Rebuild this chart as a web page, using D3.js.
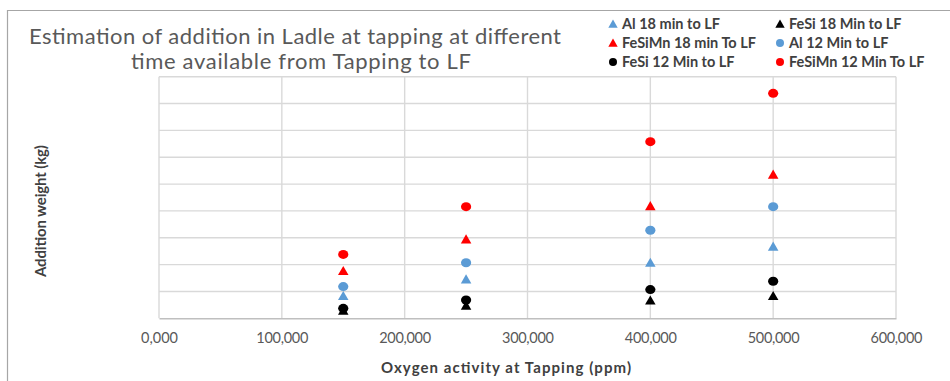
<!DOCTYPE html>
<html>
<head>
<meta charset="utf-8">
<script src="https://cdn.jsdelivr.net/npm/d3@7"></script>
<style>
  body { margin: 0; background: #fff; }
  svg { display: block; }
  .tick text { font-family: Lato, "Open Sans", sans-serif; font-size: 14.5px; fill: #595959; }
</style>
</head>
<body>
<div id="chart"></div>
<script>
// x values (ppm) and addition weights (units of one gridline)
const oxygen = [150000, 250000, 400000, 500000];
const al18 = [0.83, 1.45, 2.07, 2.67];
const fesi18 = [0.28, 0.47, 0.66, 0.83];
const fesimn18 = [1.76, 2.94, 4.18, 5.35];
const al12 = [1.18, 2.07, 3.28, 4.16];
const fesi12 = [0.37, 0.68, 1.07, 1.38];
const fesimn12 = [2.38, 4.16, 6.58, 8.38];
const xTicks = [0, 100000, 200000, 300000, 400000, 500000, 600000];
const xTickLabels = ["0,000", "100,000", "200,000", "300,000", "400,000", "500,000", "600,000"];

const series = [
  { name: "Al 18 min to LF", values: al18, color: "#5b9bd5", shape: "tri" },
  { name: "FeSi 18 Min to LF", values: fesi18, color: "#000000", shape: "tri" },
  { name: "FeSiMn 18 min To LF", values: fesimn18, color: "#ff0000", shape: "tri" },
  { name: "Al 12 Min to LF", values: al12, color: "#5b9bd5", shape: "circle" },
  { name: "FeSi 12 Min to LF", values: fesi12, color: "#000000", shape: "circle" },
  { name: "FeSiMn 12 Min To LF", values: fesimn12, color: "#ff0000", shape: "circle" }
];

const width = 950, height = 381;
const plotLeft = 159, plotRight = 896, plotTop = 76.7, plotBottom = 318.3;

const svg = d3.select("#chart").append("svg")
  .attr("width", width)
  .attr("height", height);

// outer chart frame (cropped on the right and bottom)
svg.append("path")
  .attr("d", `M7.5,${height} V10.5 H${width}`)
  .attr("fill", "none")
  .attr("stroke", "#a6a6a6")
  .attr("stroke-width", 1.2);

const x = d3.scaleLinear().domain([0, 600000]).range([plotLeft, plotRight]);
const y = d3.scaleLinear().domain([0, 9]).range([plotBottom, plotTop]);

// gridlines
svg.append("g")
  .selectAll("line")
  .data(d3.range(1, 10))
  .enter()
  .append("line")
  .attr("x1", plotLeft).attr("x2", plotRight)
  .attr("y1", d => y(d)).attr("y2", d => y(d))
  .attr("stroke", "#d9d9d9")
  .attr("stroke-width", 1.4);

svg.append("g")
  .selectAll("line")
  .data(xTicks)
  .enter()
  .append("line")
  .attr("x1", d => x(d)).attr("x2", d => x(d))
  .attr("y1", plotTop).attr("y2", plotBottom)
  .attr("stroke", "#d9d9d9")
  .attr("stroke-width", 1.4);

// x axis
const xAxis = svg.append("g")
  .attr("transform", `translate(0,${plotBottom})`)
  .call(d3.axisBottom(x)
    .tickValues(xTicks)
    .tickSize(0)
    .tickPadding(14)
    .tickFormat((d, i) => xTickLabels[i]));
xAxis.select(".domain").attr("stroke", "#bfbfbf").attr("stroke-width", 1.4);
xAxis.selectAll(".tick text").attr("textLength", (d, i) => i === 0 ? 37 : 52);

// axis titles
svg.append("text")
  .attr("x", 506)
  .attr("y", 373)
  .attr("text-anchor", "middle")
  .attr("textLength", 250)
  .style("font-family", "Lato, sans-serif")
  .style("font-weight", "bold")
  .style("font-size", "15px")
  .style("fill", "#404040")
  .text("Oxygen activity at Tapping (ppm)");

svg.append("text")
  .attr("transform", `translate(46,211) rotate(-90)`)
  .attr("text-anchor", "middle")
  .attr("textLength", 132)
  .style("font-family", "Lato, sans-serif")
  .style("font-weight", "bold")
  .style("font-size", "15px")
  .style("fill", "#404040")
  .text("Addition weight (kg)");

// title
const titleLines = ["Estimation of addition in Ladle at tapping at different", "time available from Tapping to LF"];
const titleWidths = [532, 340];
svg.append("g").selectAll("text")
  .data(titleLines)
  .enter()
  .append("text")
  .attr("x", (d, i) => i === 0 ? 295 : 301)
  .attr("y", (d, i) => 44 + i * 25)
  .attr("text-anchor", "middle")
  .attr("textLength", (d, i) => titleWidths[i])
  .style("font-family", "Lato, sans-serif")
  .style("font-size", "22px")
  .style("fill", "#595959")
  .text(d => d);

const triangle = d3.symbol().type(d3.symbolTriangle).size(48);

function drawMarker(g, shape, color, cx, cy, r) {
  if (shape === "circle") {
    g.append("ellipse")
      .attr("cx", cx).attr("cy", cy)
      .attr("rx", r + 0.6).attr("ry", r)
      .attr("fill", color);
  } else {
    g.append("path")
      .attr("d", triangle())
      .attr("transform", `translate(${cx},${cy + 1})`)
      .attr("fill", color);
  }
}

// points
const pts = svg.append("g");
series.forEach(s => {
  s.values.forEach((v, i) => {
    drawMarker(pts, s.shape, s.color, x(oxygen[i]), y(v), 4.5);
  });
});

// legend
const legend = svg.append("g");
const legendX = [613, 780];
const legendY = [24, 43, 62];
series.forEach((s, i) => {
  const lx = legendX[i % 2], ly = legendY[Math.floor(i / 2)];
  const g = legend.append("g");
  if (s.shape === "circle") {
    g.append("circle").attr("cx", lx).attr("cy", ly).attr("r", 4).attr("fill", s.color);
  } else {
    g.append("path")
      .attr("d", d3.symbol().type(d3.symbolTriangle).size(38)())
      .attr("transform", `translate(${lx},${ly + 1})`)
      .attr("fill", s.color);
  }
  g.append("text")
    .attr("x", lx + 9)
    .attr("y", ly + 5)
    .style("font-family", "Lato, sans-serif")
    .style("font-weight", "bold")
    .style("font-size", "14.5px")
    .style("fill", "#404040")
    .text(s.name);
});
</script>
</body>
</html>
